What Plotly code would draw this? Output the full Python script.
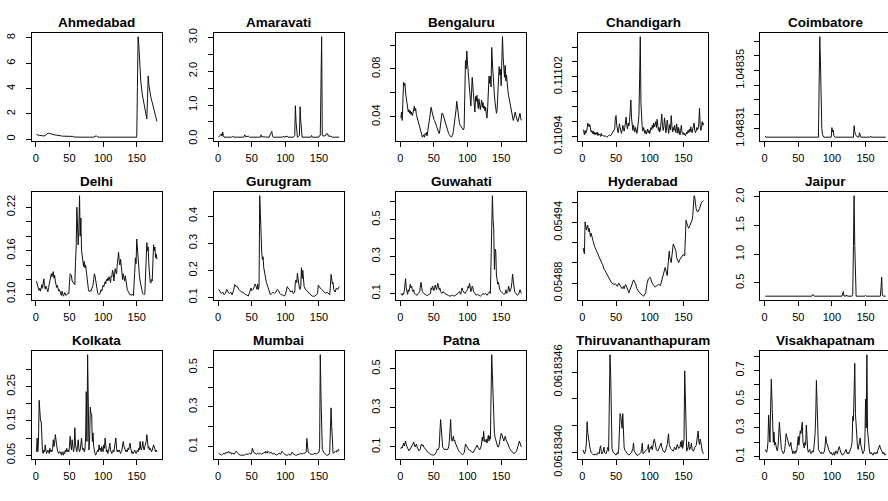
import plotly.graph_objects as go

# ---------------- data (day index, value) ----------------
cities = ["Ahmedabad", "Amaravati", "Bengaluru", "Chandigarh", "Coimbatore",
          "Delhi", "Gurugram", "Guwahati", "Hyderabad", "Jaipur",
          "Kolkata", "Mumbai", "Patna", "Thiruvananthapuram", "Visakhapatnam"]

n_days = 180
x_ticks = [0, 50, 100, 150]

ahmedabad = [(1,0.38),(3,0.33),(5,0.30),(8,0.29),(10,0.28),(12,0.25),(14,0.30),(16,0.42),(18,0.48),(20,0.46),
             (22,0.42),(24,0.40),(26,0.36),(28,0.34),(30,0.33),(32,0.32),(34,0.33),(36,0.30),(38,0.26),(40,0.24),
             (45,0.24),(50,0.23),(55,0.22),(57,0.17),(60,0.16),(70,0.16),(80,0.16),(86,0.16),(88,0.24),(90,0.25),
             (92,0.18),(95,0.16),(110,0.16),(130,0.16),(150,0.16),(151,4.1),(152,8.1),(153,7.5),(154,6.0),(155,5.0),
             (156,4.6),(158,3.6),(160,3.0),(162,2.4),(164,1.9),(165,1.6),(166,3.2),(167,5.0),(168,4.3),(169,3.8),
             (171,3.3),(173,2.9),(175,2.5),(177,2.1),(179,1.7),(180,1.4)]
ahmedabad_ticks = [0, 2, 4, 6, 8]
ahmedabad_labels = ["0", "2", "4", "6", "8"]

amaravati = [(1,0.05),(3,0.1),(5,0.15),(6,0.08),(7,0.2),(8,0.1),(9,0.05),(20,0.05),(22,0.08),(23,0.05),
             (38,0.05),(40,0.12),(41,0.06),(45,0.08),(47,0.05),(63,0.05),(64,0.12),(65,0.06),(76,0.05),(78,0.15),
             (80,0.22),(81,0.08),(82,0.05),(96,0.05),(97,0.08),(98,0.05),(103,0.08),(104,0.05),(112,0.05),(114,0.1),
             (115,0.98),(116,0.5),(117,0.1),(118,0.05),(121,0.1),(122,0.95),(123,0.52),(124,0.08),(125,0.05),(138,0.05),
             (139,0.1),(140,0.05),(150,0.05),(151,0.1),(152,0.1),(153,1.55),(154,3.02),(155,0.12),(156,0.08),(160,0.1),
             (161,0.15),(163,0.15),(164,0.08),(168,0.08),(170,0.05),(180,0.05)]
amaravati_ticks = [0.0, 0.5, 1.0, 1.5, 2.0, 2.5, 3.0]
amaravati_labels = ["0.0", "", "1.0", "", "2.0", "", "3.0"]

bengaluru = [(1,0.039),(2,0.044),(3,0.037),(4,0.055),(5,0.069),(6,0.066),(7,0.068),(8,0.060),(9,0.055),(10,0.050),
             (11,0.046),(12,0.044),(13,0.046),(14,0.043),(15,0.045),(16,0.042),(17,0.044),(18,0.041),(19,0.043),(20,0.046),
             (21,0.049),(22,0.045),(23,0.047),(24,0.042),(25,0.040),(26,0.038),(27,0.036),(28,0.034),(29,0.032),(30,0.030),
             (31,0.028),(32,0.025),(33,0.023),(34,0.024),(35,0.025),(36,0.023),(37,0.026),(38,0.025),(39,0.027),(40,0.024),
             (41,0.028),(42,0.032),(43,0.036),(44,0.040),(45,0.044),(46,0.048),(47,0.045),(48,0.042),(49,0.040),(50,0.038),
             (51,0.037),(52,0.036),(53,0.034),(54,0.032),(55,0.031),(56,0.029),(57,0.027),(58,0.026),(59,0.029),(60,0.035),
             (61,0.040),(62,0.043),(63,0.043),(64,0.041),(65,0.039),(66,0.036),(67,0.034),(68,0.032),(69,0.030),(70,0.028),
             (71,0.027),(72,0.026),(73,0.025),(74,0.024),(75,0.023),(76,0.023),(77,0.024),(78,0.025),(79,0.028),(80,0.032),
             (81,0.036),(82,0.040),(83,0.046),(84,0.053),(85,0.047),(86,0.041),(87,0.037),(88,0.035),(89,0.033),(90,0.032),
             (91,0.031),(92,0.030),(93,0.030),(94,0.029),(95,0.031),(96,0.060),(97,0.087),(98,0.080),(99,0.095),(100,0.085),
             (101,0.078),(102,0.073),(103,0.068),(104,0.058),(105,0.049),(106,0.060),(107,0.073),(108,0.065),(109,0.057),(110,0.050),
             (111,0.044),(112,0.057),(113,0.053),(114,0.058),(115,0.050),(116,0.047),(117,0.055),(118,0.052),(119,0.046),(120,0.050),
             (121,0.054),(122,0.048),(123,0.052),(124,0.047),(125,0.049),(126,0.045),(127,0.048),(128,0.042),(129,0.039),(130,0.048),
             (131,0.060),(132,0.074),(133,0.068),(134,0.074),(135,0.065),(136,0.098),(137,0.085),(138,0.072),(139,0.064),(140,0.058),
             (141,0.052),(142,0.047),(143,0.043),(144,0.046),(145,0.055),(146,0.066),(147,0.082),(148,0.075),(149,0.080),(150,0.066),
             (151,0.091),(152,0.107),(153,0.090),(154,0.082),(155,0.073),(156,0.083),(157,0.070),(158,0.075),(159,0.066),(160,0.062),
             (161,0.058),(162,0.055),(163,0.052),(164,0.049),(165,0.046),(166,0.043),(167,0.040),(168,0.037),(169,0.039),(170,0.042),
             (171,0.044),(172,0.041),(173,0.038),(174,0.037),(175,0.036),(176,0.038),(177,0.040),(178,0.043),(179,0.039),(180,0.037)]
bengaluru_ticks = [0.04, 0.06, 0.08, 0.10]
bengaluru_labels = ["0.04", "", "0.08", ""]

chandigarh = [(1,0.110949),(2,0.110947),(3,0.110942),(4,0.110948),(5,0.110944),(6,0.110946),(7,0.110950),(8,0.110958),(9,0.110955),(10,0.110953),
              (11,0.110956),(12,0.110950),(13,0.110946),(14,0.110948),(15,0.110944),(16,0.110947),(17,0.110943),(18,0.110946),(19,0.110942),(20,0.110945),
              (21,0.110943),(22,0.110946),(23,0.110941),(24,0.110944),(25,0.110942),(26,0.110943),(27,0.110940),(28,0.110944),(29,0.110941),(30,0.110942),
              (32,0.110940),(34,0.110941),(36,0.110939),(38,0.110940),(40,0.110942),(42,0.110941),(44,0.110944),(46,0.110946),(48,0.110950),(49,0.110965),
              (50,0.110968),(51,0.110955),(52,0.110948),(53,0.110945),(54,0.110950),(55,0.110957),(56,0.110952),(57,0.110946),(58,0.110944),(59,0.110948),
              (60,0.110955),(61,0.110951),(62,0.110947),(63,0.110952),(64,0.110959),(65,0.110966),(66,0.110955),(67,0.110950),(68,0.110958),(69,0.110954),
              (70,0.110960),(71,0.110975),(72,0.110989),(73,0.110965),(74,0.110952),(75,0.110948),(76,0.110955),(77,0.110950),(78,0.110946),(79,0.110952),
              (80,0.110948),(81,0.110944),(82,0.110950),(83,0.110957),(84,0.110968),(85,0.111016),(86,0.111074),(87,0.110985),(88,0.110958),(89,0.110950),
              (90,0.110947),(91,0.110952),(92,0.110948),(93,0.110944),(94,0.110948),(95,0.110943),(96,0.110946),(97,0.110950),(98,0.110945),(99,0.110948),
              (100,0.110944),(101,0.110947),(102,0.110952),(103,0.110949),(104,0.110955),(105,0.110951),(106,0.110958),(107,0.110953),(108,0.110956),(109,0.110960),
              (110,0.110952),(111,0.110963),(112,0.110955),(113,0.110948),(114,0.110952),(115,0.110946),(116,0.110950),(117,0.110958),(118,0.110970),(119,0.110955),
              (120,0.110948),(121,0.110953),(122,0.110965),(123,0.110957),(124,0.110945),(125,0.110950),(126,0.110962),(127,0.110955),(128,0.110944),(129,0.110950),
              (130,0.110956),(131,0.110949),(132,0.110968),(133,0.110955),(134,0.110946),(135,0.110952),(136,0.110948),(137,0.110955),(138,0.110950),(139,0.110945),
              (140,0.110957),(141,0.110948),(142,0.110944),(143,0.110952),(144,0.110946),(145,0.110942),(146,0.110948),(147,0.110955),(148,0.110946),(149,0.110943),
              (150,0.110945),(151,0.110942),(152,0.110944),(153,0.110941),(154,0.110943),(155,0.110946),(156,0.110944),(157,0.110948),(158,0.110945),(159,0.110950),
              (160,0.110946),(161,0.110953),(162,0.110948),(163,0.110945),(164,0.110950),(165,0.110955),(166,0.110958),(167,0.110948),(168,0.110945),(169,0.110947),
              (170,0.110952),(171,0.110949),(172,0.110950),(173,0.110958),(174,0.110978),(175,0.110955),(176,0.110948),(177,0.110952),(178,0.110960),(179,0.110955),
              (180,0.110958)]
chandigarh_ticks = [0.11094, 0.11096, 0.11098, 0.11100, 0.11102, 0.11104, 0.11106]
chandigarh_labels = ["0.11094", "", "", "", "0.11102", "", ""]

coimbatore = [(1,1.0483049),(2,1.0483041),(80,1.0483041),(81,1.0483386),(82,1.0483733),(83,1.0483562),(84,1.0483155),(85,1.0483100),
              (86,1.0483060),(87,1.0483045),(88,1.0483041),(99,1.0483041),(100,1.0483107),(101,1.0483078),(102,1.0483090),(103,1.0483050),
              (105,1.0483041),(132,1.0483041),(133,1.0483120),(134,1.0483078),(135,1.0483060),(137,1.0483045),(140,1.0483041),(141,1.0483071),
              (142,1.0483050),(143,1.0483041),(157,1.0483041),(158,1.0483048),(159,1.0483041),(180,1.0483041)]
coimbatore_ticks = [1.04831, 1.04832, 1.04833, 1.04834, 1.04835, 1.04836, 1.04837]
coimbatore_labels = ["1.04831", "", "", "", "1.04835", "", ""]

delhi = [(1,0.118),(2,0.113),(3,0.109),(4,0.107),(5,0.105),(6,0.108),(7,0.104),(8,0.11),(9,0.113),(10,0.108),
         (11,0.115),(12,0.121),(13,0.112),(14,0.107),(15,0.111),(16,0.108),(17,0.104),(18,0.103),(19,0.109),(20,0.113),
         (21,0.12),(22,0.124),(23,0.128),(24,0.124),(25,0.129),(26,0.131),(27,0.122),(28,0.126),(29,0.118),(30,0.114),
         (31,0.109),(32,0.112),(33,0.107),(34,0.104),(35,0.106),(36,0.102),(37,0.1),(38,0.098),(39,0.104),(40,0.101),
         (41,0.097),(42,0.099),(43,0.102),(44,0.1),(45,0.098),(46,0.099),(47,0.1),(48,0.101),(49,0.1),(50,0.126),
         (51,0.128),(52,0.127),(53,0.125),(54,0.118),(55,0.117),(56,0.115),(57,0.114),(58,0.113),(59,0.145),(60,0.165),
         (61,0.22),(62,0.2),(63,0.168),(64,0.19),(65,0.236),(66,0.18),(67,0.205),(68,0.16),(69,0.15),(70,0.148),
         (71,0.138),(72,0.145),(73,0.136),(74,0.14),(75,0.13),(76,0.124),(77,0.115),(78,0.108),(79,0.104),(80,0.103),
         (81,0.105),(82,0.104),(83,0.107),(84,0.11),(85,0.112),(86,0.12),(87,0.128),(88,0.125),(89,0.118),(90,0.11),
         (91,0.104),(92,0.101),(93,0.1),(94,0.099),(95,0.1),(96,0.103),(97,0.106),(98,0.104),(99,0.108),(100,0.112),
         (101,0.11),(102,0.115),(103,0.117),(104,0.114),(105,0.12),(106,0.118),(107,0.122),(108,0.119),(109,0.124),(110,0.12),
         (111,0.116),(112,0.125),(113,0.124),(114,0.133),(115,0.13),(116,0.118),(117,0.126),(118,0.135),(119,0.13),(120,0.128),
         (121,0.14),(122,0.15),(123,0.158),(124,0.145),(125,0.14),(126,0.148),(127,0.135),(128,0.125),(129,0.12),(130,0.128),
         (131,0.122),(132,0.118),(133,0.125),(134,0.115),(135,0.11),(136,0.106),(137,0.104),(138,0.102),(139,0.1),(140,0.099),
         (141,0.1),(142,0.098),(143,0.099),(144,0.1),(145,0.098),(146,0.11),(147,0.13),(148,0.15),(149,0.142),(150,0.176),
         (151,0.16),(152,0.148),(153,0.138),(154,0.125),(155,0.118),(156,0.112),(157,0.108),(158,0.104),(159,0.101),(160,0.1),
         (161,0.099),(162,0.1),(163,0.13),(164,0.165),(165,0.171),(166,0.16),(167,0.165),(168,0.14),(169,0.125),(170,0.116),
         (171,0.115),(172,0.12),(173,0.118),(174,0.15),(175,0.168),(176,0.16),(177,0.165),(178,0.15),(179,0.155),(180,0.148)]
delhi_ticks = [0.10, 0.12, 0.14, 0.16, 0.18, 0.20, 0.22]
delhi_labels = ["0.10", "", "", "0.16", "", "", "0.22"]

gurugram = [(1,0.13),(3,0.12),(5,0.115),(7,0.12),(9,0.11),(11,0.115),(13,0.13),(15,0.12),(17,0.115),(19,0.12),
            (21,0.11),(23,0.125),(25,0.148),(27,0.14),(29,0.14),(31,0.13),(33,0.125),(35,0.12),(37,0.12),(39,0.115),
            (41,0.11),(43,0.11),(45,0.105),(47,0.12),(49,0.135),(50,0.125),(52,0.13),(54,0.14),(55,0.15),(56,0.145),
            (57,0.135),(58,0.13),(59,0.15),(60,0.13),(61,0.14),(62,0.475),(63,0.41),(64,0.3),(65,0.265),(66,0.24),
            (67,0.25),(68,0.21),(69,0.195),(70,0.17),(72,0.155),(74,0.14),(76,0.125),(78,0.11),(80,0.115),(82,0.12),
            (84,0.115),(86,0.12),(88,0.13),(90,0.125),(92,0.115),(94,0.11),(96,0.11),(98,0.105),(100,0.11),(102,0.125),
            (103,0.14),(104,0.135),(106,0.13),(108,0.12),(110,0.125),(112,0.115),(114,0.12),(115,0.16),(116,0.165),(117,0.155),
            (118,0.19),(119,0.17),(120,0.14),(121,0.135),(122,0.13),(123,0.14),(124,0.21),(125,0.17),(126,0.2),(127,0.16),
            (128,0.14),(130,0.13),(132,0.125),(134,0.12),(136,0.115),(138,0.11),(140,0.105),(142,0.105),(144,0.105),(146,0.11),
            (148,0.115),(149,0.145),(150,0.14),(152,0.135),(154,0.13),(156,0.125),(158,0.12),(160,0.115),(162,0.12),(164,0.115),
            (166,0.11),(167,0.14),(168,0.185),(169,0.17),(170,0.15),(171,0.155),(172,0.13),(174,0.12),(175,0.125),(176,0.135),
            (178,0.13),(180,0.14)]
gurugram_ticks = [0.1, 0.2, 0.3, 0.4]
gurugram_labels = ["0.1", "0.2", "0.3", "0.4"]

guwahati = [(1,0.1),(2,0.095),(3,0.09),(4,0.1),(5,0.095),(6,0.11),(7,0.14),(8,0.18),(9,0.13),(10,0.1),
            (11,0.095),(12,0.12),(13,0.11),(14,0.13),(15,0.15),(16,0.13),(17,0.14),(18,0.12),(19,0.11),(20,0.12),
            (21,0.1),(23,0.095),(25,0.09),(27,0.1),(29,0.11),(30,0.14),(31,0.16),(32,0.13),(33,0.11),(35,0.1),
            (37,0.095),(39,0.09),(41,0.09),(43,0.095),(45,0.1),(46,0.13),(47,0.12),(48,0.14),(49,0.125),(50,0.115),
            (51,0.13),(52,0.145),(53,0.13),(54,0.12),(55,0.14),(56,0.155),(57,0.135),(58,0.12),(59,0.13),(60,0.11),
            (62,0.1),(64,0.11),(66,0.1),(68,0.095),(70,0.09),(72,0.088),(74,0.085),(76,0.088),(78,0.09),(80,0.085),
            (82,0.09),(84,0.095),(86,0.1),(88,0.11),(89,0.1),(90,0.095),(91,0.12),(92,0.13),(93,0.115),(94,0.11),
            (96,0.1),(98,0.11),(100,0.12),(101,0.14),(102,0.13),(103,0.155),(104,0.13),(105,0.11),(106,0.12),(107,0.14),
            (108,0.13),(109,0.11),(111,0.1),(113,0.09),(115,0.095),(117,0.09),(119,0.085),(121,0.09),(123,0.1),(125,0.095),
            (127,0.1),(129,0.09),(131,0.1),(133,0.11),(134,0.1),(135,0.36),(136,0.35),(137,0.63),(138,0.5),(139,0.45),
            (140,0.23),(141,0.34),(142,0.33),(143,0.2),(144,0.17),(145,0.15),(146,0.16),(147,0.13),(148,0.12),(150,0.11),
            (152,0.1),(154,0.095),(156,0.1),(157,0.12),(158,0.1),(160,0.11),(161,0.14),(162,0.12),(163,0.11),(164,0.12),
            (165,0.13),(166,0.16),(167,0.205),(168,0.17),(169,0.13),(170,0.11),(172,0.1),(174,0.09),(176,0.095),(178,0.12),
            (180,0.1)]
guwahati_ticks = [0.1, 0.2, 0.3, 0.4, 0.5, 0.6]
guwahati_labels = ["0.1", "", "0.3", "", "0.5", ""]

hyderabad = [(1,0.0549148),(2,0.0549120),(3,0.0549090),(4,0.0549406),(5,0.0549370),(6,0.0549326),(7,0.0549360),(8,0.0549374),
             (9,0.0549310),(10,0.0549342),(11,0.0549300),(12,0.0549261),(13,0.0549294),(14,0.0549260),(15,0.0549229),(16,0.0549213),
             (18,0.0549165),(20,0.0549132),(22,0.0549100),(24,0.0549060),(25,0.0549052),(26,0.0549035),(27,0.0549019),(29,0.0548995),
             (30,0.0548987),(32,0.0548939),(34,0.0548920),(35,0.0548906),(37,0.0548874),(39,0.0548860),(40,0.0548842),(42,0.0548819),
             (44,0.0548800),(47,0.0548787),(49,0.0548794),(52,0.0548768),(54,0.0548800),(57,0.0548761),(59,0.0548745),(61,0.0548768),
             (62,0.0548745),(64,0.0548787),(66,0.0548761),(69,0.0548703),(71,0.0548745),(74,0.0548794),(76,0.0548832),(79,0.0548794),
             (81,0.0548745),(84,0.0548713),(86,0.0548697),(89,0.0548681),(91,0.0548671),(94,0.0548703),(96,0.0548794),(98,0.0548842),
             (101,0.0548858),(103,0.0548810),(106,0.0548777),(108,0.0548761),(111,0.0548777),(113,0.0548787),(116,0.0548777),(118,0.0548826),
             (121,0.0548923),(123,0.0548955),(126,0.0548874),(128,0.0549003),(129,0.0549116),(130,0.0549050),(132,0.0549003),(133,0.0549068),
             (135,0.0549187),(137,0.0549155),(139,0.0549116),(140,0.0549052),(143,0.0549003),(145,0.0549035),(148,0.0549068),(150,0.0549084),
             (152,0.0549068),(153,0.0549406),(154,0.0549423),(156,0.0549374),(158,0.0549342),(159,0.0549358),(161,0.0549390),(163,0.0549423),
             (164,0.0549471),(166,0.0549665),(167,0.0549648),(168,0.0549584),(169,0.0549535),(171,0.0549503),(172,0.0549510),(174,0.0549535),
             (177,0.0549600),(180,0.0549616)]
hyderabad_ticks = [0.05488, 0.05490, 0.05492, 0.05494, 0.05496]
hyderabad_labels = ["0.05488", "", "", "0.05494", ""]

jaipur = [(1,0.268),(70,0.268),(71,0.29),(72,0.3),(73,0.275),(74,0.268),(115,0.268),(116,0.3),(117,0.35),(118,0.27),
          (119,0.268),(121,0.27),(122,0.29),(123,0.268),(130,0.268),(131,0.3),(132,1.13),(133,2.02),(134,1.15),(135,0.28),
          (136,0.268),(149,0.268),(150,0.28),(151,0.268),(172,0.268),(173,0.42),(174,0.6),(175,0.28),(176,0.27),(180,0.268)]
jaipur_ticks = [0.5, 1.0, 1.5, 2.0]
jaipur_labels = ["0.5", "1.0", "1.5", "2.0"]

kolkata = [(1,0.06),(2,0.1),(3,0.06),(4,0.09),(5,0.21),(6,0.15),(7,0.15),(8,0.15),(9,0.07),(10,0.06),
           (11,0.055),(12,0.065),(13,0.06),(14,0.08),(15,0.065),(16,0.055),(17,0.06),(18,0.065),(19,0.06),(20,0.055),
           (21,0.07),(22,0.06),(23,0.065),(24,0.06),(25,0.07),(26,0.095),(27,0.075),(28,0.085),(29,0.11),(30,0.085),
           (31,0.08),(32,0.065),(33,0.06),(34,0.055),(35,0.06),(36,0.06),(37,0.055),(38,0.05),(39,0.06),(40,0.055),
           (41,0.05),(42,0.06),(43,0.055),(44,0.065),(45,0.06),(46,0.07),(47,0.06),(48,0.065),(49,0.06),(50,0.075),
           (51,0.105),(52,0.08),(53,0.065),(54,0.095),(55,0.075),(56,0.06),(57,0.07),(58,0.13),(59,0.08),(60,0.07),
           (61,0.06),(62,0.075),(63,0.095),(64,0.07),(65,0.06),(66,0.065),(67,0.08),(68,0.1),(69,0.075),(70,0.065),
           (71,0.07),(72,0.06),(73,0.065),(74,0.1),(75,0.235),(76,0.09),(77,0.343),(78,0.07),(79,0.065),(80,0.1),
           (81,0.19),(82,0.17),(83,0.17),(84,0.09),(85,0.115),(86,0.075),(87,0.06),(88,0.055),(89,0.05),(90,0.055),
           (91,0.06),(92,0.065),(93,0.06),(94,0.08),(95,0.065),(96,0.07),(97,0.06),(98,0.075),(99,0.065),(100,0.06),
           (101,0.08),(102,0.07),(103,0.1),(104,0.07),(105,0.06),(106,0.065),(107,0.055),(108,0.06),(109,0.07),(110,0.085),
           (111,0.065),(112,0.06),(113,0.055),(114,0.06),(115,0.065),(116,0.06),(117,0.08),(118,0.1),(119,0.1),(120,0.07),
           (121,0.06),(122,0.065),(123,0.06),(124,0.065),(125,0.06),(126,0.055),(127,0.06),(128,0.065),(129,0.08),(130,0.09),
           (131,0.075),(132,0.07),(133,0.065),(134,0.06),(135,0.065),(136,0.06),(137,0.07),(138,0.065),(139,0.075),(140,0.085),
           (141,0.07),(142,0.06),(143,0.055),(144,0.06),(145,0.055),(146,0.06),(147,0.065),(148,0.06),(149,0.055),(150,0.06),
           (151,0.065),(152,0.06),(153,0.07),(154,0.065),(155,0.09),(156,0.07),(157,0.065),(158,0.075),(159,0.09),(160,0.07),
           (161,0.065),(162,0.075),(163,0.08),(164,0.09),(165,0.11),(166,0.08),(167,0.07),(168,0.075),(169,0.065),(170,0.07),
           (171,0.065),(172,0.06),(173,0.065),(174,0.07),(175,0.08),(176,0.075),(177,0.065),(178,0.06),(179,0.065),(180,0.06)]
kolkata_ticks = [0.05, 0.10, 0.15, 0.20, 0.25, 0.30]
kolkata_labels = ["0.05", "", "0.15", "", "0.25", ""]

mumbai = [(1,0.065),(3,0.06),(5,0.055),(7,0.06),(9,0.065),(10,0.06),(12,0.07),(13,0.065),(15,0.07),(16,0.075),
          (17,0.065),(19,0.07),(20,0.06),(22,0.065),(24,0.06),(26,0.07),(27,0.075),(28,0.07),(29,0.065),(31,0.06),
          (33,0.055),(35,0.055),(37,0.055),(39,0.055),(41,0.06),(43,0.06),(45,0.06),(47,0.065),(49,0.06),(50,0.065),
          (51,0.09),(52,0.08),(53,0.07),(55,0.065),(57,0.06),(59,0.065),(61,0.06),(63,0.065),(65,0.06),(67,0.065),
          (69,0.07),(70,0.065),(71,0.075),(72,0.07),(73,0.065),(74,0.075),(75,0.07),(77,0.065),(79,0.07),(81,0.06),
          (83,0.065),(85,0.06),(87,0.055),(89,0.06),(91,0.065),(93,0.06),(95,0.075),(96,0.07),(97,0.065),(99,0.06),
          (101,0.055),(103,0.055),(105,0.06),(107,0.055),(109,0.06),(110,0.07),(111,0.065),(113,0.06),(115,0.055),(117,0.055),
          (119,0.06),(121,0.06),(123,0.065),(125,0.06),(127,0.065),(129,0.065),(131,0.07),(132,0.14),(133,0.11),(134,0.07),
          (136,0.065),(138,0.06),(140,0.06),(142,0.06),(144,0.065),(146,0.06),(148,0.065),(150,0.07),(151,0.09),(152,0.565),
          (153,0.36),(154,0.13),(155,0.085),(157,0.07),(159,0.06),(161,0.055),(163,0.055),(165,0.06),(166,0.07),(167,0.17),
          (168,0.295),(169,0.2),(170,0.07),(171,0.065),(173,0.07),(175,0.075),(176,0.07),(177,0.08),(178,0.075),(179,0.085),
          (180,0.08)]
mumbai_ticks = [0.1, 0.2, 0.3, 0.4, 0.5]
mumbai_labels = ["0.1", "", "0.3", "", "0.5"]

patna = [(1,0.09),(2,0.1),(3,0.095),(4,0.11),(5,0.12),(6,0.105),(7,0.12),(8,0.13),(9,0.11),(10,0.1),
         (11,0.09),(12,0.085),(13,0.08),(14,0.085),(15,0.09),(16,0.095),(17,0.1),(18,0.105),(19,0.115),(20,0.125),
         (21,0.11),(22,0.1),(23,0.105),(24,0.115),(25,0.1),(26,0.095),(27,0.09),(28,0.08),(29,0.085),(30,0.09),
         (31,0.11),(32,0.115),(33,0.105),(34,0.11),(35,0.1),(36,0.095),(37,0.09),(38,0.085),(39,0.08),(40,0.075),
         (41,0.075),(42,0.07),(43,0.07),(44,0.065),(45,0.065),(46,0.06),(47,0.06),(48,0.058),(49,0.06),(50,0.058),
         (51,0.06),(52,0.065),(53,0.07),(54,0.075),(55,0.09),(56,0.085),(57,0.09),(58,0.1),(59,0.175),(60,0.24),
         (61,0.2),(62,0.13),(63,0.1),(64,0.095),(65,0.09),(66,0.085),(67,0.09),(68,0.085),(69,0.09),(70,0.085),
         (71,0.09),(72,0.1),(73,0.13),(74,0.18),(75,0.24),(76,0.15),(77,0.13),(78,0.14),(79,0.155),(80,0.13),
         (81,0.135),(82,0.12),(83,0.11),(84,0.1),(85,0.09),(86,0.085),(87,0.08),(88,0.075),(89,0.07),(90,0.068),
         (91,0.065),(92,0.062),(93,0.06),(94,0.065),(95,0.07),(96,0.09),(97,0.115),(98,0.11),(99,0.1),(100,0.095),
         (101,0.09),(102,0.085),(103,0.085),(104,0.08),(105,0.08),(106,0.075),(107,0.075),(108,0.07),(109,0.075),(110,0.08),
         (111,0.085),(112,0.09),(113,0.1),(114,0.11),(115,0.1),(116,0.095),(117,0.09),(118,0.085),(119,0.09),(120,0.1),
         (121,0.12),(122,0.15),(123,0.13),(124,0.18),(125,0.14),(126,0.125),(127,0.13),(128,0.14),(129,0.12),(130,0.15),
         (131,0.16),(132,0.13),(133,0.155),(134,0.14),(135,0.33),(136,0.572),(137,0.47),(138,0.33),(139,0.2),(140,0.17),
         (141,0.15),(142,0.13),(143,0.12),(144,0.11),(145,0.1),(146,0.1),(147,0.11),(148,0.13),(149,0.15),(150,0.17),
         (151,0.165),(152,0.15),(153,0.135),(154,0.13),(155,0.14),(156,0.155),(157,0.14),(158,0.13),(159,0.12),(160,0.11),
         (161,0.1),(162,0.095),(163,0.09),(164,0.085),(165,0.08),(166,0.075),(167,0.07),(168,0.068),(169,0.065),(170,0.068),
         (171,0.07),(172,0.075),(173,0.08),(174,0.09),(175,0.1),(176,0.11),(177,0.13),(178,0.12),(179,0.105),(180,0.1)]
patna_ticks = [0.1, 0.2, 0.3, 0.4, 0.5]
patna_labels = ["0.1", "", "0.3", "", "0.5"]

thiruvananthapuram = [(1,0.06183402),(2,0.06183400),(3,0.06183399),(4,0.06183400),(5,0.06183402),(6,0.06183408),(7,0.06183423),(8,0.06183415),
                      (9,0.06183410),(10,0.06183406),(11,0.06183404),(12,0.06183402),(13,0.06183400),(15,0.06183399),(17,0.06183398),(19,0.06183399),
                      (21,0.06183398),(23,0.06183400),(25,0.06183399),(26,0.06183403),(27,0.06183405),(28,0.06183401),(29,0.06183399),(31,0.06183401),
                      (32,0.06183404),(33,0.06183400),(35,0.06183399),(37,0.06183402),(38,0.06183404),(39,0.06183401),(40,0.06183435),(41,0.06183473),
                      (42,0.06183459),(43,0.06183413),(44,0.06183403),(46,0.06183400),(48,0.06183399),(50,0.06183398),(52,0.06183400),(53,0.06183399),
                      (54,0.06183403),(55,0.06183413),(56,0.06183429),(57,0.06183427),(58,0.06183420),(59,0.06183418),(60,0.06183429),(61,0.06183414),
                      (62,0.06183404),(63,0.06183402),(65,0.06183400),(67,0.06183399),(69,0.06183398),(71,0.06183399),(73,0.06183400),(75,0.06183403),
                      (76,0.06183407),(77,0.06183401),(79,0.06183399),(81,0.06183398),(83,0.06183398),(85,0.06183399),(87,0.06183400),(88,0.06183403),
                      (89,0.06183407),(90,0.06183399),(92,0.06183400),(94,0.06183401),(96,0.06183402),(97,0.06183403),(98,0.06183406),(99,0.06183400),
                      (100,0.06183402),(101,0.06183404),(102,0.06183403),(103,0.06183405),(104,0.06183402),(105,0.06183407),(106,0.06183409),(107,0.06183410),
                      (108,0.06183406),(110,0.06183402),(112,0.06183401),(114,0.06183403),(116,0.06183405),(117,0.06183407),(118,0.06183404),(120,0.06183401),
                      (122,0.06183400),(124,0.06183402),(126,0.06183406),(127,0.06183412),(128,0.06183414),(129,0.06183406),(131,0.06183403),(133,0.06183402),
                      (135,0.06183401),(137,0.06183404),(139,0.06183402),(141,0.06183406),(143,0.06183403),(145,0.06183404),(146,0.06183408),(147,0.06183404),
                      (148,0.06183409),(149,0.06183403),(151,0.06183410),(152,0.06183461),(153,0.06183443),(154,0.06183405),(155,0.06183401),(157,0.06183404),
                      (158,0.06183408),(159,0.06183402),(161,0.06183404),(162,0.06183407),(163,0.06183402),(165,0.06183401),(167,0.06183404),(169,0.06183405),
                      (170,0.06183410),(171,0.06183414),(172,0.06183416),(173,0.06183408),(174,0.06183406),(175,0.06183410),(176,0.06183408),(178,0.06183401),
                      (180,0.06183399)]
thiruvananthapuram_ticks = [0.0618340, 0.0618342, 0.0618344, 0.0618346]
thiruvananthapuram_labels = ["0.0618340", "", "", "0.0618346"]

visakhapatnam = [(1,0.15),(2,0.14),(3,0.13),(4,0.15),(5,0.2),(6,0.39),(7,0.3),(8,0.2),(9,0.45),(10,0.64),
                 (11,0.48),(12,0.25),(13,0.2),(14,0.27),(15,0.18),(16,0.2),(17,0.16),(18,0.15),(19,0.14),(20,0.17),
                 (21,0.25),(22,0.34),(23,0.27),(24,0.2),(25,0.15),(26,0.14),(27,0.13),(28,0.12),(29,0.13),(30,0.15),
                 (31,0.2),(32,0.26),(33,0.24),(34,0.22),(35,0.2),(36,0.19),(37,0.17),(38,0.18),(39,0.2),(40,0.16),
                 (41,0.13),(42,0.12),(43,0.14),(44,0.13),(45,0.12),(46,0.14),(47,0.13),(48,0.15),(49,0.18),(50,0.24),
                 (51,0.18),(52,0.22),(53,0.28),(54,0.26),(55,0.3),(56,0.34),(57,0.2),(58,0.17),(59,0.16),(60,0.2),
                 (61,0.18),(62,0.32),(63,0.2),(64,0.15),(65,0.13),(66,0.14),(67,0.15),(68,0.13),(69,0.12),(70,0.13),
                 (71,0.14),(72,0.13),(73,0.15),(74,0.2),(75,0.26),(76,0.39),(77,0.63),(78,0.47),(79,0.2),(80,0.15),
                 (81,0.14),(82,0.13),(83,0.12),(84,0.12),(85,0.13),(86,0.12),(87,0.12),(88,0.13),(89,0.14),(90,0.18),
                 (91,0.24),(92,0.2),(93,0.18),(94,0.16),(95,0.15),(96,0.14),(97,0.13),(98,0.12),(99,0.13),(100,0.12),
                 (101,0.11),(102,0.12),(103,0.13),(104,0.11),(105,0.12),(106,0.14),(107,0.13),(108,0.12),(109,0.14),(110,0.15),
                 (111,0.17),(112,0.15),(113,0.13),(114,0.12),(115,0.12),(116,0.11),(117,0.12),(118,0.12),(119,0.13),(120,0.14),
                 (121,0.15),(122,0.13),(123,0.12),(124,0.13),(125,0.12),(126,0.13),(127,0.14),(128,0.15),(129,0.17),(130,0.2),
                 (131,0.38),(132,0.35),(133,0.56),(134,0.75),(135,0.4),(136,0.28),(137,0.2),(138,0.17),(139,0.15),(140,0.18),
                 (141,0.2),(142,0.23),(143,0.18),(144,0.16),(145,0.14),(146,0.12),(147,0.13),(148,0.14),(149,0.2),(150,0.5),
                 (151,0.3),(152,0.81),(153,0.28),(154,0.2),(155,0.15),(156,0.13),(157,0.12),(158,0.13),(159,0.12),(160,0.12),
                 (161,0.11),(162,0.12),(163,0.13),(164,0.12),(165,0.12),(166,0.13),(167,0.12),(168,0.14),(169,0.16),(170,0.17),
                 (171,0.18),(172,0.16),(173,0.15),(174,0.14),(175,0.13),(176,0.12),(177,0.13),(178,0.12),(179,0.11),(180,0.12)]
visakhapatnam_ticks = [0.1, 0.2, 0.3, 0.4, 0.5, 0.6, 0.7, 0.8]
visakhapatnam_labels = ["0.1", "", "0.3", "", "0.5", "", "0.7", ""]

series = [ahmedabad, amaravati, bengaluru, chandigarh, coimbatore,
          delhi, gurugram, guwahati, hyderabad, jaipur,
          kolkata, mumbai, patna, thiruvananthapuram, visakhapatnam]
tick_vals = [ahmedabad_ticks, amaravati_ticks, bengaluru_ticks, chandigarh_ticks, coimbatore_ticks,
             delhi_ticks, gurugram_ticks, guwahati_ticks, hyderabad_ticks, jaipur_ticks,
             kolkata_ticks, mumbai_ticks, patna_ticks, thiruvananthapuram_ticks, visakhapatnam_ticks]
tick_text = [ahmedabad_labels, amaravati_labels, bengaluru_labels, chandigarh_labels, coimbatore_labels,
             delhi_labels, gurugram_labels, guwahati_labels, hyderabad_labels, jaipur_labels,
             kolkata_labels, mumbai_labels, patna_labels, thiruvananthapuram_labels, visakhapatnam_labels]

# ---------------- layout geometry (pixels) ----------------
W, H = 888, 501
PANEL_W = 182.2
ROW_H = 167.0
BOX_L0 = 31.65
PX_PER_DAY = 0.673
BOX_T0, BOX_B0 = 28.0, 142.0
TITLE_Y0 = 17.0
FONT = "Liberation Sans, Arial, sans-serif"

fig = go.Figure()
layout = dict(width=W, height=H, autosize=False, margin=dict(l=0, r=0, t=0, b=0),
              paper_bgcolor="white", plot_bgcolor="white", showlegend=False,
              annotations=[])

xlo = 1 - 0.04 * (n_days - 1)
xhi_full = n_days + 0.04 * (n_days - 1)

for i, name in enumerate(cities):
    r, c = divmod(i, 5)
    pts = series[i]
    xs = [p[0] for p in pts]
    ys = [p[1] for p in pts]
    ax = "" if i == 0 else str(i + 1)

    L = BOX_L0 + PANEL_W * c
    R = L + (xhi_full - xlo) * PX_PER_DAY
    xhi = xhi_full
    clipped = False
    if R > W:
        xhi = xlo + (W - L) / PX_PER_DAY
        R = W
        clipped = True
    T = BOX_T0 + ROW_H * r
    B = BOX_B0 + ROW_H * r

    ymin, ymax = min(ys), max(ys)
    pad = 0.04 * (ymax - ymin)

    fig.add_trace(go.Scatter(x=xs, y=ys, mode="lines", xaxis="x" + ax, yaxis="y" + ax,
                             line=dict(color="#111111", width=1), hoverinfo="skip"))

    layout["xaxis" + ax] = dict(
        domain=[L / W, R / W], range=[xlo, xhi], anchor="y" + ax,
        tickmode="array", tickvals=x_ticks, ticktext=[str(v) for v in x_ticks],
        ticks="outside", ticklen=5, tickwidth=1, tickcolor="black",
        showline=True, mirror=True, linecolor="black", linewidth=1,
        showgrid=False, zeroline=False, fixedrange=True,
        tickfont=dict(family=FONT, size=11, color="black"), ticklabelstandoff=2)
    layout["yaxis" + ax] = dict(
        domain=[1 - B / H, 1 - T / H], range=[ymin - pad, ymax + pad], anchor="x" + ax,
        tickmode="array", tickvals=tick_vals[i], ticktext=tick_text[i], tickangle=-90,
        ticks="outside", ticklen=5, tickwidth=1, tickcolor="black",
        showline=True, mirror=(not clipped), linecolor="black", linewidth=1,
        showgrid=False, zeroline=False, fixedrange=True,
        tickfont=dict(family=FONT, size=11, color="black"), ticklabelstandoff=6)

    cx = (L + (xhi_full - xlo) * PX_PER_DAY / 2) / W
    layout["annotations"].append(dict(
        text="<b>" + name + "</b>", x=cx, y=1 - (TITLE_Y0 + ROW_H * r) / H,
        xref="paper", yref="paper", xanchor="center", yanchor="middle",
        showarrow=False, font=dict(family=FONT, size=13.5, color="black")))

fig.update_layout(**layout)
fig.write_html("out.html", include_plotlyjs=True, config={"displayModeBar": False, "staticPlot": True})
